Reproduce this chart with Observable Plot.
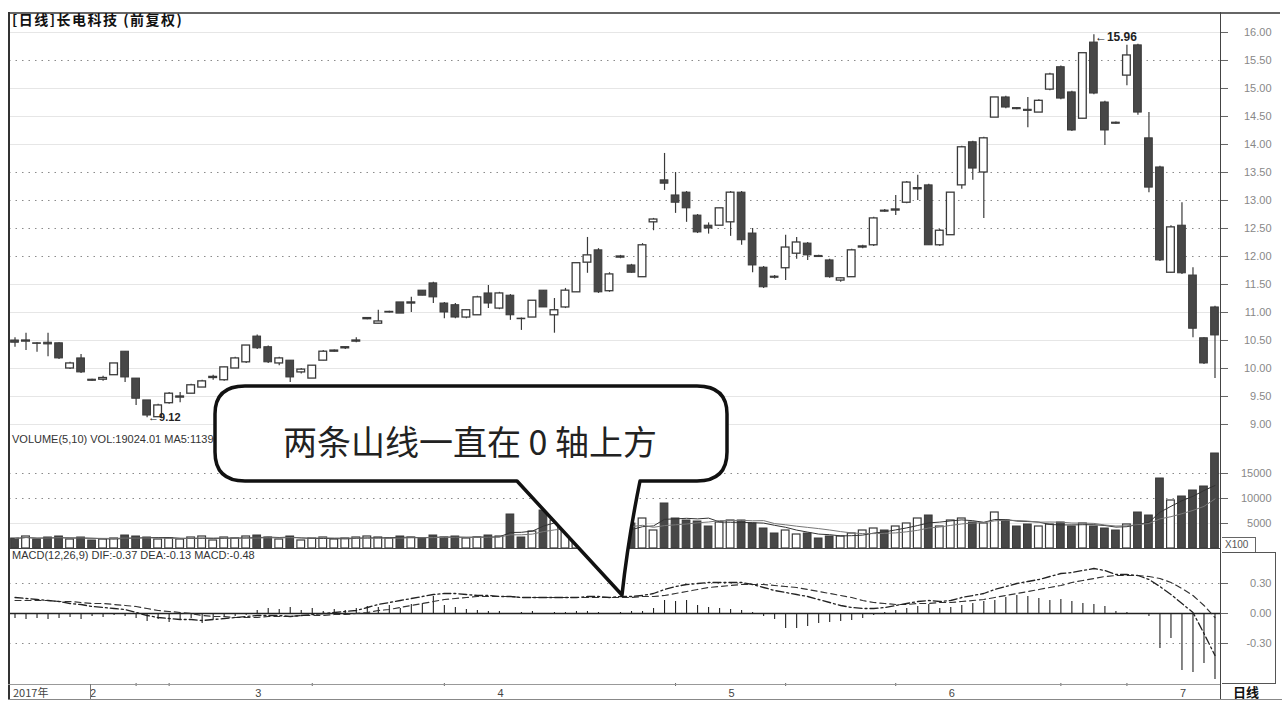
<!DOCTYPE html>
<html><head><meta charset="utf-8">
<script src="https://cdn.jsdelivr.net/npm/d3@7"></script>
<script src="https://cdn.jsdelivr.net/npm/@observablehq/plot@0.6"></script>
<style>
body{margin:0;background:#fff;}
#root{position:relative;width:1282px;height:712px;overflow:hidden;font-family:"Liberation Sans",Arial,sans-serif;background:#fff;}
.panel{position:absolute;left:0;}
.ln{position:absolute;}
.hdr{position:absolute;white-space:nowrap;}
</style></head><body><div id="root"></div>
<script>
// ---- data ----
const opens  = [10.50,10.48,10.45,10.46,10.45,10.00,10.18,9.80,9.80,9.88, 10.30,9.82,9.43,9.13,9.38,9.48,9.55,9.66,9.83,9.79, 10.00,10.11,10.57,10.38,10.09,10.14,9.93,9.82,10.14,10.30, 10.36,10.48,10.88,10.80,11.00,11.18,11.16,11.39,11.52,11.16, 11.13,10.91,10.95,11.34,11.07,11.30,10.89,10.91,11.39,10.95, 11.09,11.36,11.89,12.11,11.38,11.98,11.84,11.63,12.61,13.36, 13.09,13.14,12.73,12.55,12.55,12.61,13.14,12.41,11.80,11.64, 11.79,12.05,12.23,12.01,11.93,11.57,11.63,12.16,12.20,12.82, 12.82,12.96,13.20,13.27,12.20,12.38,13.27,14.04,13.50,14.48, 14.84,14.65,14.62,14.57,14.98,15.38,14.93,14.46,15.82,14.75, 14.39,15.23,15.77,14.11,13.59,11.71,12.55,11.66,10.54,11.09];
const highs  = [10.55,10.63,10.46,10.63,10.46,10.11,10.25,9.81,9.86,10.09, 10.30,9.82,9.43,9.36,9.57,9.57,9.72,9.79,9.88,10.02, 10.20,10.41,10.60,10.40,10.20,10.14,10.00,10.05,10.32,10.33, 10.39,10.55,10.91,11.04,11.02,11.18,11.27,11.39,11.54,11.18, 11.16,11.05,11.29,11.48,11.36,11.32,10.90,11.21,11.39,11.25, 11.43,11.88,12.34,12.14,11.71,12.02,11.86,12.23,12.68,13.84, 13.50,13.16,12.75,12.60,12.86,13.16,13.16,12.50,11.82,11.66, 12.38,12.34,12.25,12.02,11.95,11.62,12.13,12.20,12.70,12.84, 13.09,13.34,13.45,13.29,12.48,13.14,13.97,14.06,14.13,14.84, 14.86,14.66,14.84,14.80,15.27,15.40,14.95,15.63,15.96,14.77, 14.40,15.77,15.79,14.57,13.61,12.55,12.96,11.80,10.55,11.11];
const lows   = [10.38,10.32,10.29,10.21,10.16,9.98,9.91,9.77,9.77,9.88, 9.75,9.34,9.12,9.13,9.36,9.39,9.55,9.66,9.79,9.77, 10.00,10.09,10.34,10.09,10.05,9.75,9.90,9.82,10.14,10.29, 10.34,10.46,10.87,10.80,10.99,10.98,11.00,11.30,11.16,10.89, 10.89,10.89,10.95,11.07,11.05,10.86,10.68,10.91,11.09,10.63, 11.07,11.36,11.70,11.34,11.36,11.96,11.70,11.63,12.46,13.18, 12.77,12.61,12.41,12.40,12.55,12.36,12.20,11.71,11.43,11.60, 11.57,11.95,11.93,11.98,11.61,11.54,11.63,12.14,12.18,12.79, 12.73,12.94,13.00,12.20,12.18,12.38,13.20,13.36,12.68,14.48, 14.64,14.62,14.30,14.57,14.96,14.80,14.23,14.46,14.89,13.98, 14.36,15.05,14.52,13.14,11.91,11.70,11.68,10.55,10.07,9.82];
const closes = [10.46,10.50,10.44,10.43,10.18,10.09,9.93,9.78,9.83,10.09, 9.84,9.46,9.16,9.34,9.55,9.50,9.70,9.77,9.85,10.02, 10.18,10.41,10.36,10.11,10.18,9.84,9.98,10.05,10.30,10.32, 10.38,10.50,10.90,10.84,11.01,10.98,11.18,11.30,11.27,11.00, 10.91,11.04,11.27,11.16,11.34,10.95,10.88,11.21,11.09,11.04, 11.39,11.88,12.02,11.36,11.68,12.00,11.71,12.20,12.66,13.30, 12.96,12.86,12.43,12.50,12.86,13.14,12.29,11.84,11.45,11.62, 12.16,12.25,12.02,11.99,11.63,11.61,12.11,12.18,12.68,12.80, 12.84,13.32,13.22,12.20,12.46,13.14,13.95,13.57,14.11,14.84, 14.66,14.63,14.60,14.78,15.25,14.82,14.25,15.63,14.91,14.25, 14.37,15.59,14.57,13.23,11.93,12.52,11.70,10.71,10.09,10.59];
const volumes = [2000,2400,1800,2200,2400,1800,2200,1600,1800,2000, 2600,2400,2200,1800,2000,1800,2200,2400,1600,2200, 2000,2400,2600,2200,1800,2400,1600,2000,2200,1800, 2000,2200,2400,2200,2000,2400,2200,2000,2600,2200, 2400,2000,2200,2600,2400,6800,2200,3400,7600,5600, 4400,4000,3000,2800,2400,5600,5000,6000,3600,9000, 6000,5600,5400,4400,5200,5600,5600,5000,4000,3000, 3600,2800,3000,2000,2400,2400,3000,3600,4000,3600, 4400,5000,6000,6600,4400,5600,6000,5200,5000,7200, 5600,4400,4800,4400,4800,5200,4400,5000,4400,4000, 3600,4800,7200,6600,14000,9600,10400,11600,12400,19000];
const dif = [0.16,0.15,0.14,0.13,0.12,0.10,0.09,0.07,0.06,0.05, 0.04,0.01,-0.02,-0.04,-0.05,-0.06,-0.06,-0.07,-0.06,-0.05, -0.04,-0.03,-0.02,-0.02,-0.02,-0.03,-0.02,-0.01,0.00,0.01, 0.02,0.03,0.06,0.09,0.11,0.13,0.15,0.17,0.19,0.20, 0.20,0.19,0.18,0.18,0.17,0.17,0.16,0.16,0.16,0.16, 0.16,0.16,0.17,0.17,0.16,0.17,0.17,0.18,0.20,0.24, 0.27,0.29,0.30,0.31,0.31,0.31,0.31,0.29,0.26,0.23, 0.21,0.19,0.17,0.14,0.11,0.08,0.06,0.05,0.05,0.06, 0.08,0.10,0.12,0.13,0.12,0.13,0.16,0.18,0.20,0.24, 0.27,0.30,0.32,0.34,0.37,0.40,0.41,0.43,0.45,0.43, 0.39,0.39,0.38,0.34,0.27,0.19,0.10,0.01,-0.20,-0.42];
const dea = [0.13,0.13,0.13,0.13,0.12,0.12,0.11,0.10,0.10,0.09, 0.08,0.07,0.05,0.03,0.02,0.01,0.00,-0.02,-0.03,-0.03, -0.04,-0.04,-0.04,-0.03,-0.03,-0.03,-0.02,-0.02,-0.02,-0.01, -0.01,0.00,0.01,0.03,0.04,0.06,0.08,0.10,0.12,0.14, 0.15,0.16,0.17,0.17,0.17,0.17,0.16,0.16,0.16,0.16, 0.16,0.16,0.16,0.16,0.16,0.16,0.16,0.17,0.17,0.18, 0.20,0.22,0.24,0.26,0.27,0.28,0.29,0.29,0.29,0.28, 0.27,0.26,0.24,0.22,0.20,0.18,0.16,0.13,0.11,0.10, 0.09,0.09,0.10,0.10,0.11,0.11,0.12,0.13,0.14,0.16, 0.18,0.20,0.22,0.24,0.26,0.28,0.31,0.33,0.35,0.37, 0.38,0.38,0.38,0.37,0.35,0.31,0.25,0.18,0.08,-0.04];
const macdBars = [-0.05,-0.06,-0.05,-0.06,-0.05,-0.04,-0.06,-0.03,-0.04,-0.02, -0.03,-0.05,-0.08,-0.06,-0.09,-0.07,-0.05,-0.10,-0.06,-0.04, -0.03,-0.02,0.03,0.05,0.04,0.06,0.03,0.05,0.02,0.04, 0.03,0.05,0.07,0.06,0.08,0.05,0.09,0.10,0.17,0.08, 0.06,0.04,0.03,0.02,0.02,-0.01,0.01,0.02,0.00,0.01, 0.01,0.02,0.02,0.01,-0.01,0.01,0.02,0.02,0.05,0.13, 0.12,0.13,0.08,0.06,0.05,0.04,0.03,0.01,-0.03,-0.06, -0.15,-0.15,-0.13,-0.10,-0.09,-0.08,-0.07,-0.05,-0.02,0.01, 0.03,0.05,0.07,0.09,0.05,0.06,0.08,0.10,0.12,0.13, 0.16,0.18,0.17,0.15,0.13,0.14,0.12,0.10,0.09,0.07, 0.02,0.01,0.00,-0.03,-0.35,-0.25,-0.57,-0.59,-0.50,-0.66];
const priceTicks = [16.00,15.50,15.00,14.50,14.00,13.50,13.00,12.50,12.00,11.50,11.00,10.50,10.00,9.50,9.00];
const dottedPrice = [15.50,13.50,13.00,12.50,12.00];
const volTicks = [5000,10000,15000];
const macdTicks = [0.30,0.00,-0.30];
const monthLabels = ["2","3","4","5","6","7"];
const monthIdx = [7,22,44,65,85,106];
const axisMarks = [11,14,27,39,60,70,80,95,101];
const peakIdx = 98, lowIdx = 12;
const titleText = "[日线]长电科技 (前复权)";
const volHeader = "VOLUME(5,10) VOL:19024.01 MA5:11390.00 MA10:8532.70";
const macdHeader = "MACD(12,26,9) DIF:-0.37 DEA:-0.13 MACD:-0.48";
const calloutText = "两条山线一直在 0 轴上方";

// ---- build ----
const candles = opens.map((o,i)=>({i, o, h:highs[i], l:lows[i], c:closes[i], v:volumes[i], dif:dif[i], dea:dea[i], m:macdBars[i], up: closes[i]>=opens[i]}));
const ups = candles.filter(d=>d.up), downs = candles.filter(d=>!d.up);
const W = 1282, ML = 9, MR = 62;
const xScale = {type:"band", domain: candles.map(d=>d.i), paddingInner:0.3, paddingOuter:0.15, round:false, axis:null};
const dark = "#3a3a3a";
const style = {background:"transparent", fontFamily:'"Liberation Sans",Arial,sans-serif', fontSize:"11px", color:"#666", overflow:"visible"};
const root = document.getElementById("root");
function place(el, top){ el.classList.add("panel"); el.style.top = top+"px"; root.appendChild(el); }

const main = Plot.plot({
  width:W, height:435, marginLeft:ML, marginRight:MR, marginTop:12, marginBottom:3,
  x: xScale, y:{domain:[8.857,16.357], axis:null}, style,
  marks:[
    Plot.ruleY(priceTicks.filter(t=>!dottedPrice.includes(t)), {stroke:"#e6e6e6", strokeWidth:1}),
    Plot.ruleY(dottedPrice, {stroke:"#8a8a8a", strokeDasharray:"1.5,5", strokeWidth:1}),
    Plot.ruleX(candles, {x:"i", y1:"l", y2:"h", stroke:dark, strokeWidth:1.2}),
    Plot.barY(downs, {x:"i", y1:"o", y2:"c", fill:"#474747", stroke:dark, strokeWidth:1}),
    Plot.barY(ups, {x:"i", y1:"o", y2:"c", fill:"#fff", stroke:dark, strokeWidth:1.3}),
    Plot.text([candles[peakIdx]], {x:"i", y:"h", text:()=>"←" + highs[peakIdx].toFixed(2), textAnchor:"start", dx:1, dy:2, fontSize:12, fill:"#222", fontWeight:"bold"}),
    Plot.text([candles[lowIdx]], {x:"i", y:"l", text:()=>"←" + lows[lowIdx].toFixed(2), textAnchor:"start", dx:1, dy:0, fontSize:11, fill:"#222", fontWeight:"bold"}),
    Plot.axisY({anchor:"right", ticks:priceTicks, tickSize:7, tickPadding:44, textAnchor:"end", tickFormat:d=>d.toFixed(2), fill:"#888", fontSize:11, label:null})
  ]
});
place(main, 0);

const vol = Plot.plot({
  width:W, height:115, marginLeft:ML, marginRight:MR, marginTop:0, marginBottom:2,
  x: xScale, y:{domain:[0,22600], axis:null}, style,
  marks:[
    Plot.ruleY([10000,15000], {stroke:"#8a8a8a", strokeDasharray:"1.5,5"}),
    Plot.ruleY([5000], {stroke:"#e6e6e6"}),
    Plot.barY(downs, {x:"i", y:"v", fill:"#474747", stroke:dark, strokeWidth:1}),
    Plot.barY(ups, {x:"i", y:"v", fill:"#fff", stroke:dark, strokeWidth:1.2}),
    Plot.lineY(candles, Plot.windowY({k:5, anchor:"end"}, {x:"i", y:"v", stroke:"#333", strokeWidth:1})),
    Plot.lineY(candles, Plot.windowY({k:10, anchor:"end"}, {x:"i", y:"v", stroke:"#777", strokeWidth:1})),
    Plot.ruleY([0], {stroke:"#444"}),
    Plot.axisY({anchor:"right", ticks:volTicks, tickSize:7, tickPadding:44, textAnchor:"end", tickFormat:d=>String(d), fill:"#888", fontSize:11, label:null})
  ]
});
place(vol, 435);

const macd = Plot.plot({
  width:W, height:152, marginLeft:ML, marginRight:MR, marginTop:2, marginBottom:19,
  x: xScale, y:{domain:[-0.70,0.61], axis:null}, style,
  marks:[
    Plot.ruleY([0.30,-0.30], {stroke:"#8a8a8a", strokeDasharray:"1.5,5"}),
    Plot.ruleX(candles, {x:"i", y1:0, y2:"m", stroke:"#222", strokeWidth:1.1}),
    Plot.ruleY([0], {stroke:"#222", strokeWidth:1.3}),
    Plot.lineY(candles, {x:"i", y:"dea", stroke:"#333", strokeWidth:1.2, strokeDasharray:"6,4"}),
    Plot.lineY(candles, {x:"i", y:"dif", stroke:"#222", strokeWidth:1.3, strokeDasharray:"8,3,2,3"}),
    Plot.axisY({anchor:"right", ticks:macdTicks, tickSize:7, tickPadding:44, textAnchor:"end", tickFormat:d=>d.toFixed(2), fill:"#888", fontSize:11, label:null}),
    Plot.axisX({ticks:axisMarks, anchor:"bottom", tickSize:3, tickFormat:()=>"", label:null}),
    Plot.axisX({ticks:monthIdx, anchor:"bottom", tickSize:0, tickPadding:6, textAnchor:"start", dx:-2, tickFormat:d=>monthLabels[monthIdx.indexOf(d)], fill:"#444", fontSize:11, label:null})
  ]
});
place(macd, 550);

// frame lines and boxes
function line(l,t,w,h,c){ const d=document.createElement("div"); d.className="ln"; Object.assign(d.style,{left:l+"px",top:t+"px",width:w+"px",height:h+"px",background:c}); root.appendChild(d); }
line(8,12,1272,1.5,"#666");      // top
line(8,12,2,688,"#333");         // left
line(1220,12,1,688,"#444");      // right axis
line(8,684,1212,1,"#999");       // time axis
line(8,699,1274,1.2,"#888");     // bottom
line(90,684,1,15,"#777");        // year box edge
line(1222,552,54,1,"#555"); line(1222,683,54,1,"#555"); line(1275,552,1,131,"#555");
line(1222,537,34,1,"#666"); line(1255,537,1,15,"#666");

function hdr(text, l, t, css){ const d=document.createElement("div"); d.className="hdr"; d.textContent=text; d.style.left=l+"px"; d.style.top=t+"px"; Object.assign(d.style, css||{}); root.appendChild(d); }
hdr(titleText, 12, 11, {font:'bold 14px "Noto Sans CJK SC",sans-serif', color:"#111", lineHeight:"17px", letterSpacing:"1.5px"});
hdr(volHeader, 12, 433, {font:'11px "Liberation Sans",sans-serif', color:"#333"});
hdr(macdHeader, 12, 549, {font:'11px "Liberation Sans",sans-serif', color:"#333"});
hdr("2017年", 13, 685, {font:'11px "Noto Sans CJK SC",sans-serif', color:"#444", lineHeight:"14px"});
hdr("X100", 1225, 538, {font:'10px "Liberation Sans",sans-serif', color:"#555", lineHeight:"13px"});
hdr("日线", 1233, 684, {font:'bold 13px "Noto Sans CJK SC",sans-serif', color:"#111", lineHeight:"16px"});

// callout bubble
const ns = "http://www.w3.org/2000/svg";
const svg = document.createElementNS(ns, "svg");
svg.setAttribute("width", 1282); svg.setAttribute("height", 712);
svg.style.position = "absolute"; svg.style.left = "0"; svg.style.top = "0";
const p = document.createElementNS(ns, "path");
p.setAttribute("d", "M245,386 H697 Q727,386 727,414 V452 Q727,481 697,481 H640 Q628,540 622,595 L517,481 H245 Q215,481 215,452 V414 Q215,386 245,386 Z");
p.setAttribute("fill", "#fff"); p.setAttribute("stroke", "#111"); p.setAttribute("stroke-width", "3.5"); p.setAttribute("stroke-linejoin", "round");
svg.appendChild(p);
const t = document.createElementNS(ns, "text");
t.setAttribute("x", 470); t.setAttribute("y", 455); t.setAttribute("text-anchor", "middle");
t.setAttribute("font-family", '"Noto Sans CJK SC",sans-serif'); t.setAttribute("font-size", "34"); t.setAttribute("fill", "#222");
t.textContent = calloutText;
svg.appendChild(t);
root.appendChild(svg);
</script></body></html>
